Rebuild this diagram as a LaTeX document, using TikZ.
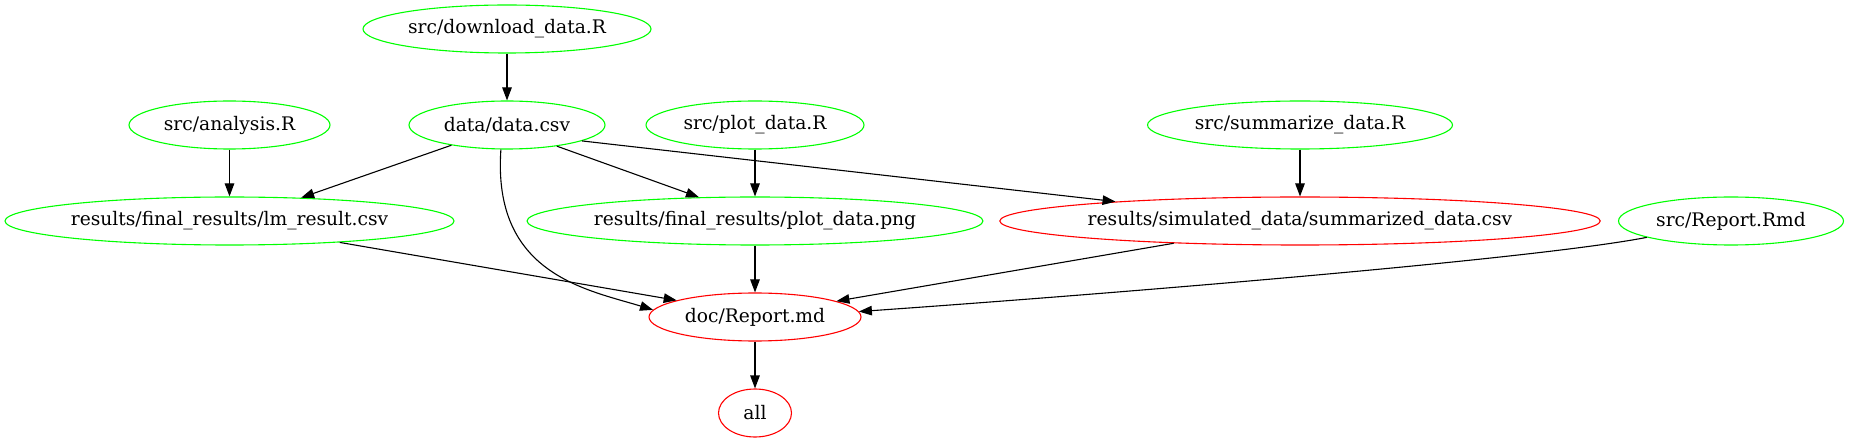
\documentclass[tikz,border=0pt]{standalone}
\usepackage{fontspec}
\setmainfont{DejaVu Serif}
\usetikzlibrary{shapes.geometric,arrows.meta}
\definecolor{gvgreen}{RGB}{0,255,0}
\definecolor{gvred}{RGB}{255,0,0}
\tikzset{
  gnode/.style={ellipse,draw=gvgreen,line width=1.1pt,inner sep=0pt,minimum height=48pt,font=\fontsize{18.67}{22}\selectfont},
  rnode/.style={gnode,draw=gvred},
  edge/.style={draw=black,line width=1.1pt,-{Triangle[length=13pt,width=9.5pt]}}
}
\begin{document}
\begin{tikzpicture}[x=1pt,y=-1pt]
\useasboundingbox (0,0) rectangle (1849,443);
\node[gnode,minimum width=288pt] (dl) at (507,29) {src/download\_data.R};
\node[gnode,minimum width=196pt] (data) at (507,125) {data/data.csv};
\node[gnode,minimum width=201pt] (ana) at (229.5,125) {src/analysis.R};
\node[gnode,minimum width=218pt] (pdr) at (755,125) {src/plot\_data.R};
\node[gnode,minimum width=305pt] (sum) at (1300,125) {src/summarize\_data.R};
\node[gnode,minimum width=449pt] (lm) at (229.5,221) {results/final\_results/lm\_result.csv};
\node[gnode,minimum width=453pt] (png) at (755,221) {results/final\_results/plot\_data.png};
\node[rnode,minimum width=590pt] (sim) at (1300,221) {results/simulated\_data/summarized\_data.csv};
\node[gnode,minimum width=225pt] (rmd) at (1731,221) {src/Report.Rmd};
\node[rnode,minimum width=212pt] (md) at (755,317) {doc/Report.md};
\node[rnode,minimum width=73pt] (all) at (755,413) {all};

\draw[edge] (dl) -- (data);
\draw[edge] (ana) -- (lm);
\draw[edge] (pdr) -- (png);
\draw[edge] (sum) -- (sim);
\draw[edge] (png) -- (md);
\draw[edge] (md) -- (all);
\draw[edge] (data.200) -- (lm.18);
\draw[edge] (data.337.6) -- (png.157.5);
\draw[edge] (data.348) -- (sim.174);
\draw[edge] (data.256) .. controls +(94:125) and +(-163:70) .. (md.176);
\draw[edge] (lm.349.4) -- (md.168.9);
\draw[edge] (sim.190.3) -- (md.11.1);
\draw[edge] (rmd.191.6) .. controls +(-191:120) and +(-4:220) .. (md.3.6);
\end{tikzpicture}
\end{document}
